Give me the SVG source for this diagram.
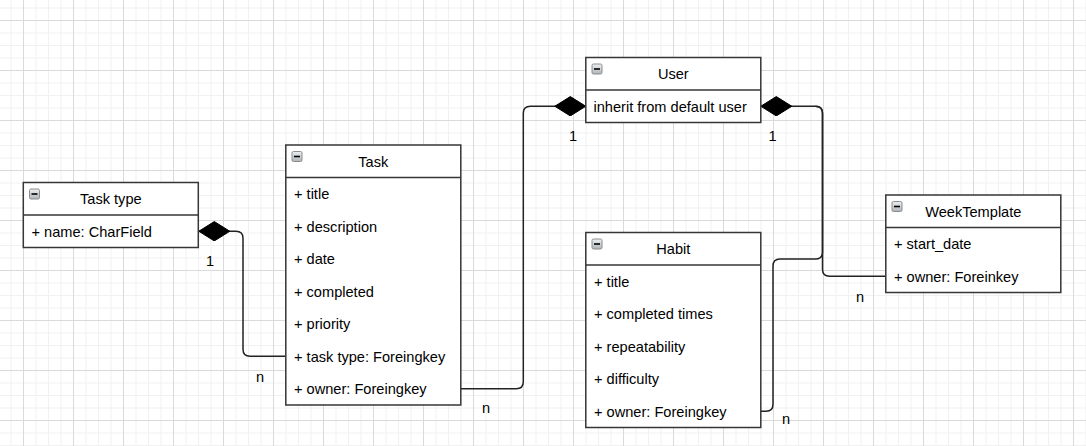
<svg xmlns="http://www.w3.org/2000/svg" width="1086" height="446" viewBox="0 0 1086 446">
<style>
.box{fill:#fff;stroke:#363636;stroke-width:1.5}
.div{stroke:#363636;stroke-width:1.5}
.title{font-family:"Liberation Sans",Arial,sans-serif;font-size:14.6px;fill:#000;text-anchor:middle}
.row{font-family:"Liberation Sans",Arial,sans-serif;font-size:14.6px;fill:#000}
.lbl{font-family:"Liberation Sans",Arial,sans-serif;font-size:14.6px;fill:#000;text-anchor:middle}
.conn{fill:none;stroke:#222;stroke-width:1.5}
.ico{fill:url(#icoGrad);stroke:#8c8c8c;stroke-width:1}
.minus{stroke:#000;stroke-width:1.6}
</style>
<defs>
<pattern id="grid" patternUnits="userSpaceOnUse" x="23" y="20" width="50" height="50">
<rect x="0" y="12.5" width="50" height="1" fill="#f1f1f1"/>
<rect x="0" y="25" width="50" height="1" fill="#f1f1f1"/>
<rect x="0" y="37.5" width="50" height="1" fill="#f1f1f1"/>
<rect x="12.5" y="0" width="1" height="50" fill="#f1f1f1"/>
<rect x="25" y="0" width="1" height="50" fill="#f1f1f1"/>
<rect x="37.5" y="0" width="1" height="50" fill="#f1f1f1"/>
<rect x="0" y="0" width="50" height="1" fill="#dadada"/>
<rect x="0" y="0" width="1" height="50" fill="#dadada"/>
</pattern>
<linearGradient id="icoGrad" x1="0" y1="0" x2="0" y2="1">
<stop offset="0" stop-color="#eef0f2"/>
<stop offset="1" stop-color="#aeb4ba"/>
</linearGradient>
<marker id="diamond" markerUnits="userSpaceOnUse" viewBox="0 0 32 20" markerWidth="32" markerHeight="20" refX="31.5" refY="10" orient="auto-start-reverse">
<polygon points="0.5,10 16,0.3 31.5,10 16,19.7" fill="#000" stroke="#000" stroke-width="1"/>
</marker>
<g id="icon"><rect class="ico" x="0.5" y="0.5" width="10" height="10" rx="1.5"/><line class="minus" x1="2.5" y1="5.5" x2="8.5" y2="5.5"/></g>
</defs>
<rect width="1086" height="446" fill="#fff"/>
<rect width="1086" height="446" fill="url(#grid)"/>

<g id="connectors">
<path class="conn" marker-start="url(#diamond)" d="M198.8,231.25 H236 Q243,231.25 243,238.25 V349.25 Q243,356.25 250,356.25 H285.8"/>
<path class="conn" marker-start="url(#diamond)" d="M585.8,106.25 H530.3 Q523.3,106.25 523.3,113.25 V381.75 Q523.3,388.75 516.3,388.75 H460.8"/>
<path class="conn" marker-start="url(#diamond)" d="M760.8,106.25 H815.5 Q822.5,106.25 822.5,113.25 V252 Q822.5,259 815.5,259 H780 Q773,259 773,266 V404.25 Q773,411.25 766,411.25 H760.8"/>
<path class="conn" d="M815.5,106.25 Q822.5,106.25 822.5,113.25 V269.25 Q822.5,276.25 829.5,276.25 H885.8"/>
<text class="lbl" x="210" y="266">1</text>
<text class="lbl" x="260" y="382">n</text>
<text class="lbl" x="573" y="141">1</text>
<text class="lbl" x="486" y="413">n</text>
<text class="lbl" x="772.5" y="141">1</text>
<text class="lbl" x="860" y="302">n</text>
<text class="lbl" x="786" y="424">n</text>
</g>

<g id="tasktype">
<rect class="box" x="23.3" y="182.5" width="175" height="65"/>
<line class="div" x1="23.3" y1="215" x2="198.3" y2="215"/>
<use href="#icon" x="29" y="188.5"/>
<text class="title" x="110.8" y="204">Task type</text>
<text class="row" x="31.5" y="236.5">+ name: CharField</text>
</g>

<g id="task">
<rect class="box" x="285.8" y="145" width="175" height="260"/>
<line class="div" x1="285.8" y1="177.5" x2="460.8" y2="177.5"/>
<use href="#icon" x="291.5" y="151"/>
<text class="title" x="373.3" y="166.5">Task</text>
<text class="row" x="294" y="199">+ title</text>
<text class="row" x="294" y="231.5">+ description</text>
<text class="row" x="294" y="264">+ date</text>
<text class="row" x="294" y="296.5">+ completed</text>
<text class="row" x="294" y="329">+ priority</text>
<text class="row" x="294" y="361.5">+ task type: Foreingkey</text>
<text class="row" x="294" y="394">+ owner: Foreingkey</text>
</g>

<g id="user">
<rect class="box" x="585.8" y="57.5" width="175" height="65"/>
<line class="div" x1="585.8" y1="90" x2="760.8" y2="90"/>
<use href="#icon" x="591.5" y="63.5"/>
<text class="title" x="673.3" y="79">User</text>
<text class="row" x="593.5" y="111.5">inherit from default user</text>
</g>

<g id="habit">
<rect class="box" x="585.8" y="232.5" width="175" height="195"/>
<line class="div" x1="585.8" y1="265" x2="760.8" y2="265"/>
<use href="#icon" x="591.5" y="238.5"/>
<text class="title" x="673.3" y="254">Habit</text>
<text class="row" x="594" y="286.5">+ title</text>
<text class="row" x="594" y="319">+ completed times</text>
<text class="row" x="594" y="351.5">+ repeatability</text>
<text class="row" x="594" y="384">+ difficulty</text>
<text class="row" x="594" y="416.5">+ owner: Foreingkey</text>
</g>

<g id="weektemplate">
<rect class="box" x="885.8" y="195" width="175" height="97.5"/>
<line class="div" x1="885.8" y1="227.5" x2="1060.8" y2="227.5"/>
<use href="#icon" x="891.5" y="201"/>
<text class="title" x="973.3" y="216.5">WeekTemplate</text>
<text class="row" x="894" y="249">+ start_date</text>
<text class="row" x="894" y="281.5">+ owner: Foreinkey</text>
</g>
</svg>
